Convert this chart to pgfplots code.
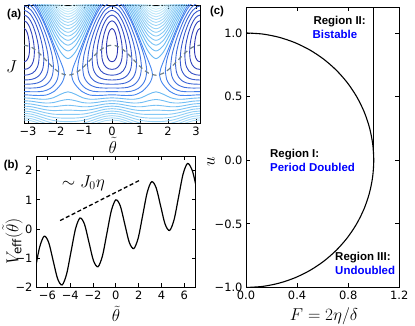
\documentclass[border=0pt]{standalone}
\usepackage{fontspec}
\setmainfont{DejaVu Sans}
\newfontfamily\arialf{Liberation Sans}
\usepackage{pgfplots}
\pgfplotsset{compat=1.18}
\usepackage{pgfplotstable}

\definecolor{cDk}{RGB}{45,55,180}
\definecolor{cMd}{RGB}{70,135,240}
\definecolor{cA}{RGB}{105,185,243}
\definecolor{cL}{RGB}{210,242,251}
\definecolor{sepgray}{RGB}{110,128,138}

\pgfplotsset{
  panel/.style={scale only axis, anchor=south west, tick align=inside,
    major tick length=4bp, axis line style={line width=0.9bp, black},
    tick style={line width=0.8bp, black},
    tick label style={font=\fontsize{11.5}{12}\selectfont}},
  ctr/.style={no markers, smooth, line width=0.9bp},
}

% open contour lines, theta in [0,pi]; a = upper family, b = lower family
\pgfplotstableread{
t a1 a2 a3 a4 a5 a6 a7 a8 a9 a10 a11 a12 a13 a14 a15 b1 b2 b3 b4 b5 b6 b7 b8 b9 b10
0 1.214 1.263 1.310 1.354 1.397 1.438 1.477 1.516 1.553 1.589 1.624 1.66 1.69 1.72 1.76 -0.574 -0.623 -0.670 -0.714 -0.757 -0.798 -0.837 -0.876 -0.913 -0.949
0.2618 1.153 1.203 1.251 1.296 1.340 1.382 1.422 1.461 1.499 1.535 1.571 1.61 1.64 1.68 1.71 -0.581 -0.631 -0.679 -0.724 -0.768 -0.810 -0.850 -0.889 -0.927 -0.963
0.5236 0.980 1.035 1.087 1.136 1.183 1.227 1.270 1.310 1.350 1.388 1.425 1.46 1.50 1.53 1.57 -0.594 -0.650 -0.702 -0.751 -0.798 -0.842 -0.885 -0.925 -0.965 -1.003
0.7854 0.728 0.792 0.852 0.907 0.959 1.008 1.055 1.099 1.142 1.183 1.222 1.260 1.298 1.334 1.369 -0.598 -0.662 -0.722 -0.777 -0.829 -0.878 -0.925 -0.969 -1.012 -1.050
1.0472 0.447 0.529 0.600 0.665 0.725 0.780 0.832 0.881 0.927 0.972 1.014 1.055 1.095 1.133 1.170 -0.572 -0.654 -0.725 -0.790 -0.850 -0.905 -0.957 -1.006 -1.050 -1.100
1.3090 0.201 0.310 0.398 0.474 0.542 0.604 0.661 0.714 0.765 0.812 0.858 0.901 0.943 0.983 1.022 -0.513 -0.622 -0.710 -0.786 -0.854 -0.916 -0.973 -1.026 -1.080 -1.130
1.5708 0.091 0.221 0.319 0.401 0.473 0.537 0.597 0.652 0.704 0.753 0.800 0.844 0.887 0.928 0.967 -0.471 -0.601 -0.699 -0.781 -0.853 -0.917 -0.977 -1.032 -1.090 -1.140
1.8326 0.201 0.310 0.398 0.474 0.542 0.604 0.661 0.714 0.765 0.812 0.858 0.901 0.943 0.983 1.022 -0.513 -0.622 -0.710 -0.786 -0.854 -0.916 -0.973 -1.026 -1.080 -1.130
2.0944 0.447 0.529 0.600 0.665 0.725 0.780 0.832 0.881 0.927 0.972 1.014 1.055 1.095 1.133 1.170 -0.572 -0.654 -0.725 -0.790 -0.850 -0.905 -0.957 -1.006 -1.050 -1.100
2.3562 0.728 0.792 0.852 0.907 0.959 1.008 1.055 1.099 1.142 1.183 1.222 1.260 1.298 1.334 1.369 -0.598 -0.662 -0.722 -0.777 -0.829 -0.878 -0.925 -0.969 -1.012 -1.050
2.6180 0.980 1.035 1.087 1.136 1.183 1.227 1.270 1.310 1.350 1.388 1.425 1.46 1.50 1.53 1.57 -0.594 -0.650 -0.702 -0.751 -0.798 -0.842 -0.885 -0.925 -0.965 -1.003
2.8798 1.153 1.203 1.251 1.296 1.340 1.382 1.422 1.461 1.499 1.535 1.571 1.61 1.64 1.68 1.71 -0.581 -0.631 -0.679 -0.724 -0.768 -0.810 -0.850 -0.889 -0.927 -0.963
3.1416 1.214 1.263 1.310 1.354 1.397 1.438 1.477 1.516 1.553 1.589 1.624 1.66 1.69 1.72 1.76 -0.574 -0.623 -0.670 -0.714 -0.757 -0.798 -0.837 -0.876 -0.913 -0.949
}\openT

% closed contours round one island (theta, J)
\pgfplotstableread[row sep=\\]{x y\\ -0.200 0.264\\ -0.192 0.344\\ -0.175 0.408\\ -0.150 0.472\\ -0.110 0.536\\ -0.060 0.583\\ 0 0.601\\ 0.060 0.583\\ 0.110 0.536\\ 0.150 0.472\\ 0.175 0.408\\ 0.192 0.344\\ 0.200 0.264\\ 0.192 0.192\\ 0.175 0.144\\ 0.150 0.104\\ 0.110 0.069\\ 0.060 0.047\\ 0 0.039\\ -0.060 0.047\\ -0.110 0.069\\ -0.150 0.104\\ -0.175 0.144\\ -0.192 0.192\\ -0.200 0.264\\}\rA
\pgfplotstableread[row sep=\\]{x y\\ -0.370 0.200\\ -0.355 0.322\\ -0.325 0.414\\ -0.277 0.515\\ -0.203 0.621\\ -0.111 0.699\\ 0 0.731\\ 0.111 0.699\\ 0.203 0.621\\ 0.277 0.515\\ 0.325 0.414\\ 0.355 0.322\\ 0.370 0.200\\ 0.355 0.096\\ 0.325 0.036\\ 0.277 -0.015\\ 0.203 -0.058\\ 0.111 -0.083\\ 0 -0.091\\ -0.111 -0.083\\ -0.203 -0.058\\ -0.277 -0.015\\ -0.325 0.036\\ -0.355 0.096\\ -0.370 0.200\\}\rB
\pgfplotstableread[row sep=\\]{x y\\ -0.541 0.136\\ -0.519 0.282\\ -0.476 0.400\\ -0.405 0.533\\ -0.297 0.675\\ -0.162 0.783\\ 0 0.829\\ 0.162 0.783\\ 0.297 0.675\\ 0.405 0.533\\ 0.476 0.400\\ 0.519 0.282\\ 0.541 0.136\\ 0.519 0.016\\ 0.476 -0.054\\ 0.405 -0.113\\ 0.297 -0.157\\ 0.162 -0.181\\ 0 -0.189\\ -0.162 -0.181\\ -0.297 -0.157\\ -0.405 -0.113\\ -0.476 -0.054\\ -0.519 0.016\\ -0.541 0.136\\}\rC
\pgfplotstableread[row sep=\\]{x y\\ -0.709 0.073\\ -0.680 0.237\\ -0.624 0.376\\ -0.532 0.535\\ -0.390 0.711\\ -0.213 0.851\\ 0 0.911\\ 0.213 0.851\\ 0.390 0.711\\ 0.532 0.535\\ 0.624 0.376\\ 0.680 0.237\\ 0.709 0.073\\ 0.680 -0.061\\ 0.624 -0.137\\ 0.532 -0.199\\ 0.390 -0.243\\ 0.213 -0.265\\ 0 -0.271\\ -0.213 -0.265\\ -0.390 -0.243\\ -0.532 -0.199\\ -0.624 -0.137\\ -0.680 -0.061\\ -0.709 0.073\\}\rD
\pgfplotstableread[row sep=\\]{x y\\ -0.878 0.009\\ -0.843 0.186\\ -0.773 0.340\\ -0.659 0.522\\ -0.483 0.733\\ -0.264 0.907\\ 0 0.983\\ 0.264 0.907\\ 0.483 0.733\\ 0.659 0.522\\ 0.773 0.340\\ 0.843 0.186\\ 0.878 0.009\\ 0.843 -0.132\\ 0.773 -0.214\\ 0.659 -0.278\\ 0.483 -0.321\\ 0.264 -0.339\\ 0 -0.343\\ -0.264 -0.339\\ -0.483 -0.321\\ -0.659 -0.278\\ -0.773 -0.214\\ -0.843 -0.132\\ -0.878 0.009\\}\rE
\pgfplotstableread[row sep=\\]{x y\\ -1.051 -0.055\\ -1.009 0.128\\ -0.925 0.292\\ -0.788 0.494\\ -0.578 0.740\\ -0.315 0.953\\ 0 1.047\\ 0.315 0.953\\ 0.578 0.740\\ 0.788 0.494\\ 0.925 0.292\\ 1.009 0.128\\ 1.051 -0.055\\ 1.009 -0.200\\ 0.925 -0.284\\ 0.788 -0.351\\ 0.578 -0.394\\ 0.315 -0.407\\ 0 -0.407\\ -0.315 -0.407\\ -0.578 -0.394\\ -0.788 -0.351\\ -0.925 -0.284\\ -1.009 -0.200\\ -1.051 -0.055\\}\rF
\pgfplotstableread[row sep=\\]{x y\\ -1.240 -0.119\\ -1.190 0.058\\ -1.091 0.223\\ -0.930 0.441\\ -0.682 0.726\\ -0.372 0.987\\ 0 1.107\\ 0.372 0.987\\ 0.682 0.726\\ 0.930 0.441\\ 1.091 0.223\\ 1.190 0.058\\ 1.240 -0.119\\ 1.190 -0.260\\ 1.091 -0.346\\ 0.930 -0.417\\ 0.682 -0.462\\ 0.372 -0.471\\ 0 -0.467\\ -0.372 -0.471\\ -0.682 -0.462\\ -0.930 -0.417\\ -1.091 -0.346\\ -1.190 -0.260\\ -1.240 -0.119\\}\rG
\pgfplotstableread[row sep=\\]{x y\\ -1.448 -0.182\\ -1.390 -0.062\\ -1.274 0.079\\ -1.086 0.303\\ -0.796 0.643\\ -0.434 0.993\\ 0 1.162\\ 0.434 0.993\\ 0.796 0.643\\ 1.086 0.303\\ 1.274 0.079\\ 1.390 -0.062\\ 1.448 -0.182\\ 1.390 -0.286\\ 1.274 -0.371\\ 1.086 -0.461\\ 0.796 -0.525\\ 0.434 -0.533\\ 0 -0.522\\ -0.434 -0.533\\ -0.796 -0.525\\ -1.086 -0.461\\ -1.274 -0.371\\ -1.390 -0.286\\ -1.448 -0.182\\}\rH

\newcommand\island[2]{%
  \addplot[ctr,color=#2] table[x expr=\thisrowno{0}-3.14159,y index=1]{#1};
  \addplot[ctr,color=#2] table[x index=0,y index=1]{#1};
  \addplot[ctr,color=#2] table[x expr=\thisrowno{0}+3.14159,y index=1]{#1};}
\newcommand\openline[2]{%
  \addplot[ctr,color=#2] table[x=t,y=#1]{\openT};
  \addplot[ctr,color=#2] table[x expr=\thisrow{t}-3.14159,y=#1]{\openT};}

\newcommand\mathlab{\fontsize{17}{20}\selectfont}
\newcommand\reg{\arialf\bfseries\fontsize{11.5}{13}\selectfont}

\begin{document}
\begin{tikzpicture}
\useasboundingbox (0,0) rectangle (415bp,326bp);

% ---------------- (a) contours ----------------
\begin{axis}[panel, at={(24bp,203bp)}, width=176bp, height=118bp,
  xmin=-3.14159, xmax=3.14159, ymin=-1, ymax=1,
  xtick={-3,-2,-1,0,1,2,3}, xticklabels={−3,−2,−1,0,1,2,3}, ytick=\empty]
\openline{a1}{cL!0!cA}\openline{a2}{cL!7!cA}\openline{a3}{cL!14!cA}
\openline{a4}{cL!21!cA}\openline{a5}{cL!29!cA}\openline{a6}{cL!36!cA}
\openline{a7}{cL!43!cA}\openline{a8}{cL!50!cA}\openline{a9}{cL!57!cA}
\openline{a10}{cL!64!cA}\openline{a11}{cL!71!cA}\openline{a12}{cL!79!cA}
\openline{a13}{cL!86!cA}\openline{a14}{cL!93!cA}\openline{a15}{cL!100!cA}
\openline{b1}{cL!0!cA}\openline{b2}{cL!7!cA}\openline{b3}{cL!14!cA}
\openline{b4}{cL!21!cA}\openline{b5}{cL!29!cA}\openline{b6}{cL!36!cA}
\openline{b7}{cL!43!cA}\openline{b8}{cL!50!cA}\openline{b9}{cL!57!cA}
\openline{b10}{cL!64!cA}
\island{\rA}{cMd!0!cDk}\island{\rB}{cMd!14!cDk}\island{\rC}{cMd!29!cDk}
\island{\rD}{cMd!43!cDk}\island{\rE}{cMd!57!cDk}\island{\rF}{cMd!71!cDk}
\island{\rG}{cMd!86!cDk}\island{\rH}{cMd!100!cDk}
\addplot[sepgray, line width=1.2bp, dash pattern=on 4.5bp off 3.5bp, smooth] coordinates {
(-3.1416,0.320)(-2.8798,0.286)(-2.6180,0.1925)(-2.3562,0.065)(-2.0944,-0.0625)
(-1.8326,-0.156)(-1.5708,-0.190)(-1.3090,-0.156)(-1.0472,-0.0625)(-0.7854,0.065)
(-0.5236,0.1925)(-0.2618,0.286)(0,0.320)(0.2618,0.286)(0.5236,0.1925)(0.7854,0.065)
(1.0472,-0.0625)(1.3090,-0.156)(1.5708,-0.190)(1.8326,-0.156)(2.0944,-0.0625)
(2.3562,0.065)(2.6180,0.1925)(2.8798,0.286)(3.1416,0.320)};
\end{axis}

% ---------------- (b) effective potential ----------------
\begin{axis}[panel, at={(36bp,38.5bp)}, width=159.7bp, height=131.5bp,
  xmin=-7, xmax=7, ymin=-2, ymax=2.5,
  xtick={-6,-4,-2,0,2,4,6}, xticklabels={−6,−4,−2,0,2,4,6},
  ytick={-2,-1,0,1,2}, yticklabels={−2,−1,0,1,2}]
\addplot[black, line width=1.2bp, smooth, no markers] coordinates {
(-7,-1.241)(-6.676,-0.612)(-6.283,-0.244)(-5.890,-0.456)(-5.498,-1.079)
(-5.105,-1.701)(-4.712,-1.913)(-4.320,-1.545)(-3.927,-0.768)(-3.534,0.010)
(-3.142,0.378)(-2.749,0.166)(-2.356,-0.457)(-1.963,-1.079)(-1.571,-1.291)
(-1.178,-0.923)(-0.785,-0.146)(-0.393,0.632)(0,1.000)(0.393,0.788)
(0.785,0.166)(1.178,-0.457)(1.571,-0.669)(1.963,-0.301)(2.356,0.477)
(2.749,1.254)(3.142,1.622)(3.534,1.410)(3.927,0.788)(4.320,0.165)
(4.712,-0.047)(5.105,0.321)(5.498,1.099)(5.890,1.876)(6.283,2.244)
(6.676,2.032)(7,1.531)};
\addplot[black, line width=1.3bp, dash pattern=on 4bp off 2.5bp] coordinates {(-4.89,0.29)(2.09,1.67)};
\node[font=\mathlab] at (axis cs:-2.85,1.57) {$\sim J_0\eta$};
\end{axis}

% ---------------- (c) phase diagram ----------------
\begin{axis}[panel, at={(246bp,38.5bp)}, width=153.3bp, height=280bp,
  xmin=0, xmax=1.2, ymin=-1, ymax=1.2,
  xtick={0,0.4,0.8,1.2}, xticklabels={0.0,0.4,0.8,1.2},
  ytick={-1,-0.5,0,0.5,1}, yticklabels={−1.0,−0.5,0.0,0.5,1.0}]
\addplot[black, line width=1.1bp, smooth, no markers] coordinates {
(0,1)(0.1305,0.9914)(0.2588,0.9659)(0.3827,0.9239)(0.5,0.8660)(0.6088,0.7934)
(0.7071,0.7071)(0.7934,0.6088)(0.8660,0.5)(0.9239,0.3827)(0.9659,0.2588)
(0.9914,0.1305)(1,0)(0.9914,-0.1305)(0.9659,-0.2588)(0.9239,-0.3827)
(0.8660,-0.5)(0.7934,-0.6088)(0.7071,-0.7071)(0.6088,-0.7934)(0.5,-0.8660)
(0.3827,-0.9239)(0.2588,-0.9659)(0.1305,-0.9914)(0,-1)};
\addplot[black, line width=1.1bp, no markers] coordinates {(1,0)(1,1.2)};
\node[anchor=west, inner sep=0, font=\reg] at (axis cs:0.527,1.09) {Region II:};
\node[anchor=west, inner sep=0, font=\reg, text=blue] at (axis cs:0.52,0.987) {Bistable};
\node[anchor=west, inner sep=0, font=\reg] at (axis cs:0.188,0.047) {Region I:};
\node[anchor=west, inner sep=0, font=\reg, text=blue] at (axis cs:0.188,-0.058) {Period Doubled};
\node[anchor=west, inner sep=0, font=\reg] at (axis cs:0.697,-0.763) {Region III:};
\node[anchor=west, inner sep=0, font=\reg, text=blue] at (axis cs:0.697,-0.863) {Undoubled};
\end{axis}

% panel letters and axis labels
\node[font=\reg] at (14.2bp,311.8bp) {(a)};
\node[font=\reg] at (11.2bp,160.2bp) {(b)};
\node[font=\reg] at (217bp,314bp) {(c)};
\node[font=\mathlab] at (11.5bp,259bp) {$J$};
\node[font=\mathlab, inner sep=0] at (112.7bp,180.5bp) {$\tilde{\theta}$};
\node[font=\mathlab, rotate=90, inner sep=0] at (12.5bp,84.5bp) {$V_{\mathrm{eff}}(\tilde{\theta})$};
\node[font=\mathlab, inner sep=0] at (116bp,12bp) {$\tilde{\theta}$};
\node[font=\mathlab, rotate=90] at (211bp,164bp) {$u$};
\node[font=\mathlab] at (324bp,10bp) {$F = 2\eta/\delta$};
\end{tikzpicture}
\end{document}
